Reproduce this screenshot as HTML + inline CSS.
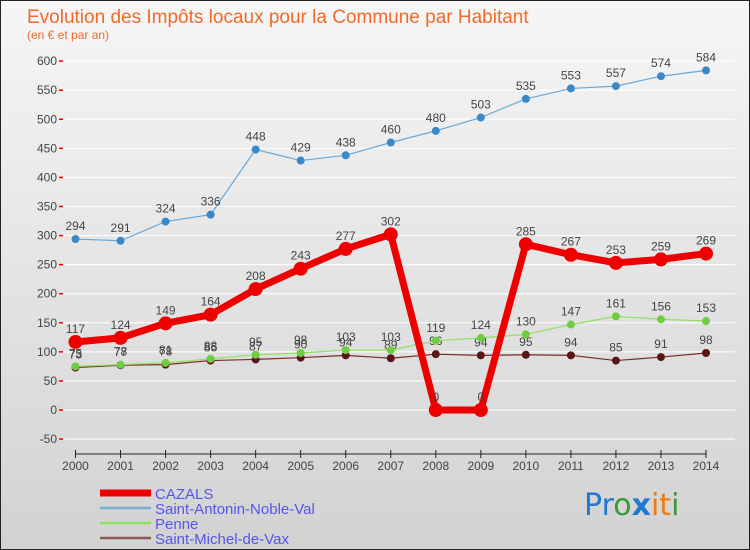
<!DOCTYPE html>
<html><head><meta charset="utf-8"><style>
body{margin:0;}
#wrap{width:750px;height:550px;position:relative;overflow:hidden;font-family:"Liberation Sans",sans-serif;}
</style></head><body>
<div id="wrap">
<svg id="svg" width="750" height="550" xmlns="http://www.w3.org/2000/svg">
<defs><linearGradient id="bg" x1="0" y1="0" x2="0" y2="1"><stop offset="0" stop-color="#f6f6f6"/><stop offset="1" stop-color="#d2d2d2"/></linearGradient></defs>
<rect x="0.5" y="0.5" width="749" height="549" fill="url(#bg)" stroke="#222"/>
<text x="27" y="23" font-size="19" fill="#f06a2a">Evolution des Impôts locaux pour la Commune par Habitant</text>
<text x="27" y="39" font-size="12" fill="#f06a2a">(en € et par an)</text>
<g id="grid"></g><g id="axes"></g><g id="series"></g><g id="legend"></g>
<text x="584" y="515" font-size="30" font-family="DejaVu Sans, sans-serif"><tspan fill="#1e7ad0">Pr</tspan><tspan fill="#3a9a3a">o</tspan><tspan fill="#1e7ad0" font-weight="bold">x</tspan><tspan fill="#f07a10">it</tspan><tspan fill="#3a9a3a">i</tspan></text>
</svg>
</div>
<script>
const years=[2000,2001,2002,2003,2004,2005,2006,2007,2008,2009,2010,2011,2012,2013,2014];
const cazals=[117,124,149,164,208,243,277,302,0,0,285,267,253,259,269];
const antonin=[294,291,324,336,448,429,438,460,480,503,535,553,557,574,584];
const penne=[75,78,81,88,95,98,103,103,119,124,130,147,161,156,153];
const michel=[73,77,78,85,87,90,94,89,96,94,95,94,85,91,98];
const yTicks=[-50,0,50,100,150,200,250,300,350,400,450,500,550,600];
const NS="http://www.w3.org/2000/svg";
const x=i=>75.5+i*(706-75.5)/(years.length-1);
const y=v=>410-v*0.5815;
function mk(tag,attrs,parent,text){const e=document.createElementNS(NS,tag);for(const k in attrs)e.setAttribute(k,attrs[k]);if(text!==undefined)e.textContent=text;document.getElementById(parent).appendChild(e);return e;}
yTicks.forEach(t=>{
  const g=mk('line',{x1:62,x2:735,y1:y(t),y2:y(t),stroke:'#fff','stroke-width':1},'grid');
  
  
  const l=mk('text',{x:57,y:y(t)+4,'font-size':12,fill:'#444','text-anchor':'end'},'axes',String(t));
  
  
  const m=mk('line',{x1:59,x2:63,y1:y(t),y2:y(t),stroke:'#e00','stroke-width':1.5},'axes');
  
  
});
const ax=mk('line',{x1:75.5,x2:706,y1:454,y2:454,stroke:'#222','stroke-width':1},'axes');


years.forEach((yr,i)=>{
  const t=mk('line',{x1:x(i),x2:x(i),y1:450,y2:458,stroke:'#222'},'axes');
  
  
  const l=mk('text',{x:x(i),y:470,'font-size':12,fill:'#444','text-anchor':'middle'},'axes',String(yr));
  
  
});
function series(vals,name,color,dot,lw,r,fs){
  const p=mk('polyline',{points:vals.map((v,i)=>x(i)+','+y(v)).join(' '),fill:'none',stroke:color,'stroke-width':lw,'stroke-linejoin':'round'},'series');
  
  
  vals.forEach((v,i)=>{
    const c=mk('circle',{cx:x(i),cy:y(v),r:r,fill:dot},'series');
    
    
    const t=mk('text',{x:x(i),y:y(v)-9,'font-size':12,fill:'#444','text-anchor':'middle'},'series',String(v));
    
    
  });
}
series(michel,'saint-michel-de-vax','#7a2a2a','#5a1515',1.2,4);
series(penne,'penne','#90e060','#70cc40',1.2,4);
series(antonin,'saint-antonin-noble-val','#6aa8d8','#3a88c8',1.2,4);
series(cazals,'cazals','#ee0000','#ee0000',7,7);
const leg=[['CAZALS','#ee0000',7],['Saint-Antonin-Noble-Val','#7aaed0',2.5],['Penne','#90e060',2.5],['Saint-Michel-de-Vax','#8a5a5a',2.5]];
leg.forEach((e,i)=>{
  const yy=493+i*15;
  const l=mk('line',{x1:100,x2:151,y1:yy,y2:yy,stroke:e[1],'stroke-width':e[2]},'legend');
  
  
  const t=mk('text',{x:155,y:yy+6,'font-size':15,fill:'#5555ee'},'legend',e[0]);
  
  
});
</script>
</body></html>
